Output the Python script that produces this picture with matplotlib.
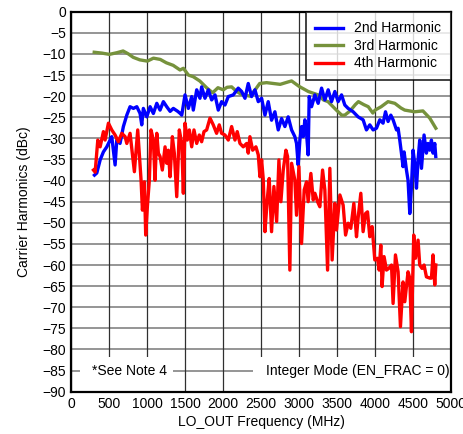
import matplotlib
matplotlib.use("Agg")
import matplotlib.pyplot as plt
from matplotlib.patches import Rectangle

plt.rcParams['font.family'] = ['Liberation Sans', 'DejaVu Sans']

# 2nd harmonic (blue)
h2_freq = [303, 334, 378, 421, 466, 509, 531, 575, 597, 640, 684, 729, 772, 816, 861, 904, 926, 947,
           992, 1036, 1079, 1124, 1167, 1211, 1255, 1300, 1342, 1400, 1433, 1453, 1496, 1540, 1584, 1605, 1650,
           1693, 1715, 1759, 1803, 1847, 1891, 1934, 1978, 2022, 2066, 2132, 2197, 2242, 2286, 2329,
           2373, 2417, 2461, 2505, 2549, 2592, 2636, 2680, 2724, 2768, 2812, 2855, 2900, 2943, 2965,
           2987, 3009, 3031, 3053, 3075, 3097, 3118, 3132, 3163, 3207, 3250, 3295, 3338, 3382, 3426,
           3470, 3513, 3558, 3601, 3645, 3711, 3776, 3842, 3886, 3930, 3974, 4018, 4062, 4105, 4137,
           4171, 4207, 4237, 4282, 4303, 4325, 4347, 4368, 4382, 4413, 4434, 4457, 4479, 4500, 4522,
           4545, 4566, 4588, 4611, 4645, 4676, 4697, 4720, 4742, 4763, 4786, 4799]
h2_dbc = [-38.7, -38.2, -35.1, -33.2, -32.0, -30.4, -29.6, -36.3, -30.4, -31.2, -27.2, -24.5, -22.5,
          -22.9, -22.5, -24.1, -26.8, -22.9, -24.9, -22.5, -24.1, -21.7, -23.3, -21.3, -22.5, -23.6, -22.9,
          -23.6, -24.1, -24.5, -19.7, -22.9, -20.1, -23.3, -18.5, -20.5, -17.8, -20.5, -18.5, -20.9,
          -19.7, -23.3, -21.3, -22.1, -20.1, -19.7, -18.1, -18.9, -20.5, -17.0, -20.1, -18.5, -21.3,
          -20.5, -24.5, -21.3, -25.7, -23.7, -28.0, -25.3, -27.2, -24.9, -28.0, -29.6, -31.2, -36.3,
          -30.4, -27.2, -29.6, -25.6, -28.8, -33.9, -20.1, -22.5, -19.7, -21.7, -18.1, -20.9, -18.5,
          -21.3, -18.9, -21.3, -19.7, -22.1, -22.9, -23.7, -24.9, -25.6, -28.0, -26.8, -28.0, -27.6,
          -25.6, -26.4, -23.7, -26.0, -24.5, -25.6, -28.0, -27.6, -30.4, -33.5, -36.7, -33.2, -37.5,
          -39.9, -47.8, -41.4, -32.8, -35.9, -41.8, -35.1, -30.4, -37.1, -29.2, -33.5, -31.2, -32.8,
          -30.4, -33.5, -31.2, -34.3]

# 3rd harmonic (green)
h3_freq = [300, 400, 500, 600, 680, 750, 813, 900, 1000, 1080, 1170, 1250, 1340, 1430, 1475, 1540,
           1605, 1690, 1780, 1860, 1930, 2000, 2050, 2110, 2170, 2240, 2300, 2350, 2420, 2480, 2570,
           2660, 2750, 2860, 2900, 3000, 3120, 3250, 3320, 3380, 3490, 3560, 3600, 3670, 3740, 3780,
           3850, 3910, 3970, 4000, 4080, 4170, 4260, 4340, 4390, 4520, 4630, 4720, 4800]
h3_dbc = [-9.6, -9.8, -10.1, -9.7, -9.3, -10.0, -10.8, -11.4, -11.7, -11.0, -11.3, -12.1, -12.7,
          -13.8, -13.4, -15.0, -15.4, -16.4, -18.0, -19.2, -18.0, -18.5, -17.9, -17.8, -18.8, -19.6,
          -19.8, -20.0, -18.5, -17.0, -16.8, -17.0, -17.2, -16.6, -16.4, -17.7, -18.9, -19.7, -20.9,
          -21.3, -23.3, -24.5, -24.5, -23.5, -22.0, -21.3, -22.0, -22.5, -24.0, -23.3, -22.5, -21.3,
          -21.7, -22.8, -23.3, -23.7, -23.5, -25.2, -27.6]

# 4th harmonic (red)
h4_freq = [290, 312, 347, 378, 421, 443, 487, 531, 575, 618, 663, 707, 729, 772, 829, 873, 917, 935,
           961, 978, 1000, 1026, 1048, 1079, 1101, 1124, 1145, 1167, 1197, 1233, 1255, 1276, 1299,
           1329, 1355, 1387, 1421, 1453, 1474, 1496, 1526, 1553, 1584, 1614, 1650, 1684, 1715, 1746,
           1781, 1825, 1868, 1912, 1947, 1978, 2022, 2066, 2110, 2154, 2184, 2220, 2263, 2308, 2329,
           2351, 2387, 2430, 2461, 2483, 2505, 2526, 2549, 2579, 2605, 2636, 2667, 2703, 2733, 2759,
           2790, 2825, 2847, 2877, 2900, 2943, 2965, 2996, 3031, 3066, 3097, 3118, 3154, 3185, 3207,
           3242, 3272, 3308, 3338, 3374, 3404, 3434, 3470, 3492, 3536, 3579, 3611, 3645, 3680, 3720,
           3755, 3776, 3812, 3842, 3874, 3900, 3930, 3961, 3996, 4032, 4053, 4075, 4092, 4118, 4150,
           4180, 4216, 4237, 4268, 4303, 4334, 4368, 4391, 4434, 4457, 4479, 4509, 4532, 4566, 4588,
           4618, 4645, 4676, 4720, 4742, 4763, 4786, 4800]
h4_dbc = [-37.5, -38.0, -30.4, -32.0, -28.4, -30.4, -26.4, -28.0, -29.2, -30.8, -28.8, -29.6, -31.2,
          -28.8, -37.9, -28.0, -39.9, -47.0, -40.3, -52.9, -46.2, -39.9, -28.0, -30.4, -39.9, -28.8,
          -33.5, -34.3, -37.5, -32.0, -35.9, -32.8, -39.1, -29.6, -33.5, -43.8, -28.0, -31.2, -43.0,
          -26.4, -30.4, -28.0, -32.0, -28.0, -31.2, -29.2, -30.8, -28.4, -28.0, -25.2, -26.8, -28.8,
          -26.8, -28.8, -29.2, -30.4, -27.2, -30.4, -28.4, -31.2, -32.0, -31.2, -33.5, -29.6, -32.8,
          -32.0, -33.9, -39.1, -35.1, -39.5, -52.1, -44.6, -39.5, -52.1, -41.4, -49.7, -35.1, -45.0,
          -37.5, -32.8, -34.3, -61.2, -35.9, -39.9, -48.2, -36.7, -54.9, -42.2, -40.3, -45.0, -38.3,
          -44.6, -43.0, -45.0, -46.2, -37.5, -42.2, -61.2, -37.1, -58.8, -45.4, -51.7, -43.4, -45.8,
          -52.9, -50.1, -51.3, -45.4, -53.3, -48.9, -43.0, -52.1, -47.8, -47.4, -53.3, -50.9, -58.8,
          -58.4, -61.2, -55.3, -65.1, -58.0, -61.2, -60.8, -60.0, -69.1, -57.6, -61.6, -74.6, -64.0,
          -68.7, -61.6, -63.1, -75.8, -52.9, -58.4, -54.1, -60.0, -60.8, -60.0, -62.8, -63.1, -63.1,
          -57.6, -64.7, -60.0]

series_labels = ["2nd Harmonic", "3rd Harmonic", "4th Harmonic"]
x_ticks = list(range(0, 5001, 500))
y_ticks = list(range(0, -91, -5))

FS = 10

fig = plt.figure(figsize=(4.64, 4.34), dpi=100)
ax = fig.add_axes([0.154, 0.0975, 0.818, 0.8755])

ax.plot(h2_freq, h2_dbc, color='#0000FF', lw=2.4, label=series_labels[0], zorder=5)
ax.plot(h3_freq, h3_dbc, color='#76923C', lw=2.4, label=series_labels[1], zorder=4)
ax.plot(h4_freq, h4_dbc, color='#FF0000', lw=2.4, label=series_labels[2], zorder=6)

ax.set_xlim(0, 5000)
ax.set_ylim(-90, 0)
ax.set_xticks(x_ticks)
ax.set_yticks(y_ticks)
ax.set_yticklabels([str(v).replace('-', '\u2212') for v in y_ticks])
ax.tick_params(length=0, labelsize=FS, pad=4, colors='black')

for v in y_ticks:
    ax.axhline(v, color='#8c8c8c', lw=1.3, zorder=1)
for v in x_ticks:
    ax.axvline(v, color='#303030', lw=0.9, zorder=1)

# white boxes for notes
ax.add_patch(Rectangle((115, -90), 1225, 8.2, facecolor='white', edgecolor='none', zorder=2))
ax.add_patch(Rectangle((2390, -90), 2610, 8.2, facecolor='white', edgecolor='none', zorder=2))
ax.text(270, -85.2, "*See Note 4", fontsize=FS, va='center', ha='left', zorder=3)
ax.text(4980, -85.2, "Integer Mode (EN_FRAC = 0)", fontsize=FS, va='center', ha='right', zorder=3)

for s in ax.spines.values():
    s.set_linewidth(1.6)
    s.set_color('black')
    s.set_zorder(10)

ax.set_xlabel("LO_OUT Frequency (MHz)", fontsize=FS, labelpad=3)
ax.set_ylabel("Carrier Harmonics (dBc)", fontsize=FS, labelpad=8)

leg = ax.legend(loc='upper right', fontsize=FS, frameon=True, fancybox=False,
                borderaxespad=0, handlelength=2.0, handletextpad=0.8, labelspacing=0.25,
                borderpad=0.7)
leg.get_frame().set_edgecolor('black')
leg.get_frame().set_linewidth(1.3)
leg.set_zorder(20)

fig.savefig("out.png", dpi=100)
